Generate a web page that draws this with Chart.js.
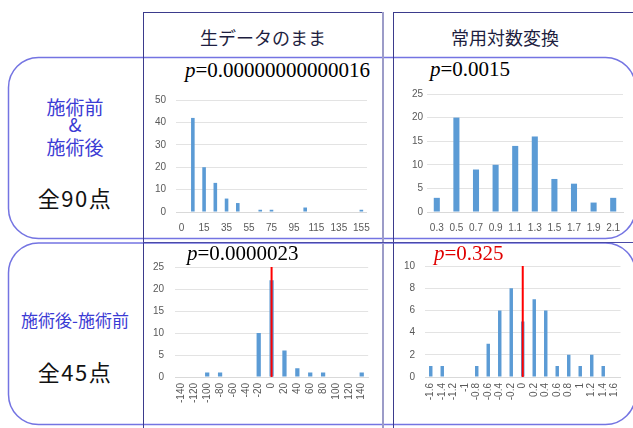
<!DOCTYPE html>
<html>
<head>
<meta charset="utf-8">
<script src="https://cdn.jsdelivr.net/npm/chart.js@4.4.0/dist/chart.umd.min.js"></script>
<style>
html,body{margin:0;padding:0;background:#fff;}
#wrap{position:relative;width:633px;height:428px;overflow:hidden;font-family:"Noto Sans CJK JP",sans-serif;}
#frame{position:absolute;left:0;top:0;}
canvas{position:absolute;}
.t{position:absolute;white-space:nowrap;text-align:center;}
.pv{position:absolute;font-family:"Liberation Serif",serif;font-size:21px;line-height:21px;color:#000;white-space:nowrap;z-index:5;}
.pv i{font-style:italic;}
</style>
</head>
<body>
<div id="wrap">
<svg id="frame" width="633" height="428">
  <!-- row panels -->
  <rect x="8.5" y="57.5" width="627" height="181" rx="30" ry="30" fill="none" stroke="#7474e2" stroke-width="1.5"/>
  <rect x="8.5" y="243" width="627" height="181.5" rx="30" ry="30" fill="none" stroke="#7474e2" stroke-width="1.5"/>
  <!-- column header boxes and table rules -->
  <line x1="143.5" y1="12.5" x2="143.5" y2="428" stroke="#3b3b8c" stroke-width="1"/>
  <line x1="143" y1="12.5" x2="383" y2="12.5" stroke="#3b3b8c" stroke-width="1"/>
  <line x1="383" y1="12" x2="383" y2="428" stroke="#9c9cc8" stroke-width="2"/>
  <line x1="393.5" y1="12.5" x2="393.5" y2="428" stroke="#3b3b8c" stroke-width="1"/>
  <line x1="393" y1="12.5" x2="640" y2="12.5" stroke="#3b3b8c" stroke-width="1"/>
  <line x1="143" y1="242.5" x2="633" y2="242.5" stroke="#4a4aa6" stroke-width="1"/>
</svg>

<div class="t" style="left:143px;width:240px;top:27px;font-size:18px;line-height:20px;color:#1e1e40;">生データのまま</div>
<div class="t" style="left:445px;width:120px;top:27px;font-size:18px;line-height:20px;color:#1e1e40;">常用対数変換</div>

<div class="t" style="left:8px;width:134px;top:96px;font-size:19px;line-height:21px;color:#3b3bd4;">施術前</div>
<div class="t" style="left:8px;width:134px;top:113px;font-size:19px;line-height:21px;color:#3b3bd4;">&amp;</div>
<div class="t" style="left:8px;width:134px;top:136px;font-size:19px;line-height:21px;color:#3b3bd4;">施術後</div>
<div class="t" style="left:8px;width:134px;top:185px;font-size:22px;line-height:24px;color:#111;letter-spacing:1.5px;">全90点</div>
<div class="t" style="left:8px;width:134px;top:310px;font-size:17px;line-height:20px;color:#3b3bd4;">施術後-施術前</div>
<div class="t" style="left:8px;width:134px;top:359px;font-size:22px;line-height:24px;color:#111;letter-spacing:1.5px;">全45点</div>

<div class="pv" style="left:185px;top:60px;"><i>p</i>=0.00000000000016</div>
<div class="pv" style="left:430px;top:59px;"><i>p</i>=0.0015</div>
<div class="pv" style="left:187px;top:243px;"><i>p</i>=0.0000023</div>
<div class="pv" style="left:434px;top:243px;color:#e00000;"><i>p</i>=0.325</div>

<canvas id="c1" width="240" height="150" style="left:140px;top:84px;"></canvas>
<canvas id="c2" width="243" height="150" style="left:390px;top:84px;"></canvas>
<canvas id="c3" width="240" height="160" style="left:140px;top:250px;"></canvas>
<canvas id="c4" width="243" height="160" style="left:390px;top:250px;"></canvas>
</div>

<script>
// Raw values, before + after (90 points): bin labels and counts
const rawBins = ['0','5','15','25','35','45','55','65','75','85','95','105','115','125','135','145','155'];
const rawCounts = [0,42,20,13,6,4,0,1,1,0,0,2,0,0,0,0,1];

// log10 values, before + after (90 points)
const logBins = ['0.3','0.5','0.7','0.9','1.1','1.3','1.5','1.7','1.9','2.1'];
const logCounts = [3,20,9,10,14,16,7,6,2,3];

// raw difference, after - before (45 points)
const diffBins = ['-140','-120','-100','-80','-60','-40','-20','0','20','40','60','80','100','120','140'];
const diffCounts = [0,0,1,1,0,0,10,22,6,2,1,1,0,0,1];

// log10 difference, after - before (45 points)
const logDiffBins = ['-1.6','-1.4','-1.2','-1','-0.8','-0.6','-0.4','-0.2','0','0.2','0.4','0.6','0.8','1','1.2','1.4','1.6'];
const logDiffCounts = [1,1,0,0,1,3,6,8,5,7,6,1,2,1,2,1,0];

// y-axis ranges
const rawMax = 50, logMax = 25, diffMax = 25, logDiffMax = 10;

const tickFont = {family:'Liberation Sans', size:10};
const tickColor = '#595959';

function histogram(id, labels, counts, o) {
  const datasets = [{
    type:'bar', data:counts, backgroundColor:'#5b9bd5',
    barPercentage:o.bar, categoryPercentage:1, order:2
  }];
  if (o.zeroTo !== undefined) {
    // vertical reference line at zero difference
    datasets.push({
      type:'line', data:[{x:'0', y:0},{x:'0', y:o.zeroTo}],
      borderColor:'#ff0000', borderWidth:2, pointRadius:0, order:1
    });
  }
  new Chart(document.getElementById(id), {
    type:'bar',
    data:{labels:labels, datasets:datasets},
    options:{
      responsive:false, animation:false, devicePixelRatio:1,
      layout:{autoPadding:false, padding:{left:0, top:o.top, right:o.right, bottom:0}},
      plugins:{legend:{display:false}, tooltip:{enabled:false}},
      scales:{
        x:{
          grid:{display:false, drawTicks:false},
          border:{display:true, color:'#d9d9d9', width:1},
          ticks:{
            autoSkip:false, maxRotation:o.rot, minRotation:o.rot, padding:o.xpad,
            color:tickColor, font:tickFont,
            callback:function(v, i){ return (o.every && i % o.every) ? '' : labels[i]; }
          },
          afterFit:function(s){ s.height = o.h; }
        },
        y:{
          min:0, max:o.max,
          grid:{color:'#e3e3e3', drawTicks:false},
          border:{display:false},
          ticks:{stepSize:o.step, padding:o.ypad, color:tickColor, font:tickFont},
          afterFit:function(s){ s.width = o.w; }
        }
      }
    }
  });
}

histogram('c1', rawBins, rawCounts,
  {bar:0.32, max:rawMax, step:10, top:10, right:10, w:36, h:22, xpad:10, ypad:10, rot:0, every:2});
histogram('c2', logBins, logCounts,
  {bar:0.31, max:logMax, step:5, top:10, right:10, w:37, h:22, xpad:10, ypad:4, rot:0});
histogram('c3', diffBins, diffCounts,
  {bar:0.33, max:diffMax, step:5, top:12, right:8, w:35, h:33, xpad:6, ypad:11, rot:90, zeroTo:diffMax});
histogram('c4', logDiffBins, logDiffCounts,
  {bar:0.3, max:logDiffMax, step:2, top:12, right:9, w:35, h:33, xpad:6, ypad:10, rot:90, zeroTo:logDiffMax});
</script>
</body>
</html>
